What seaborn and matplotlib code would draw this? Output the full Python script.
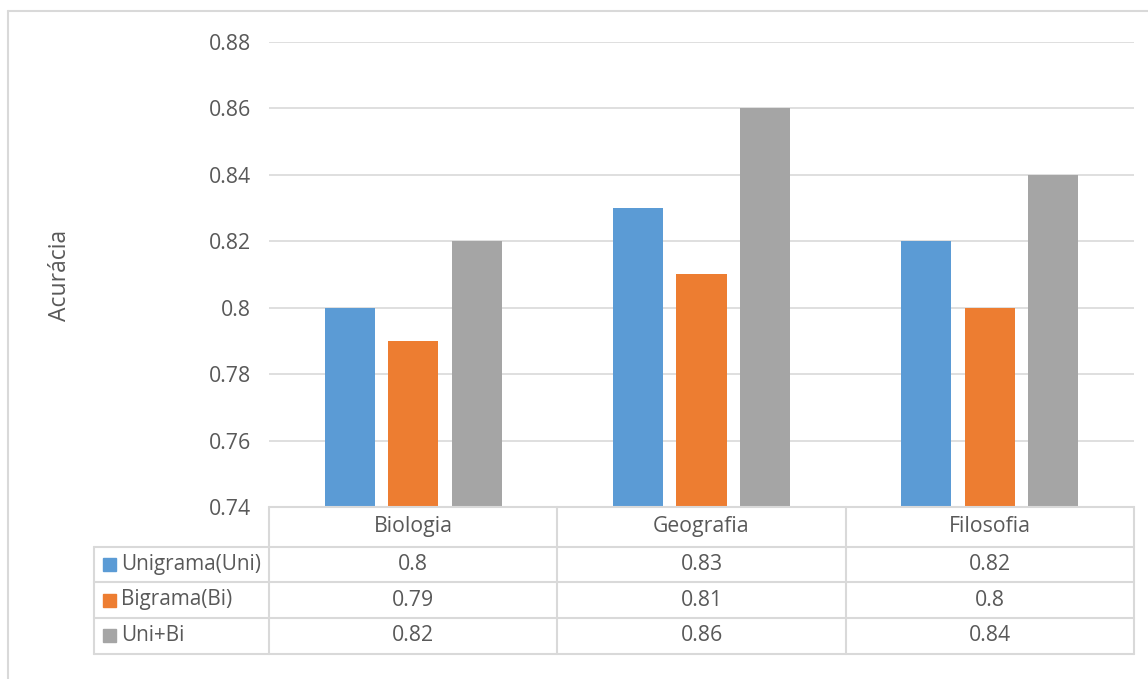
import numpy as np
import pandas as pd
import matplotlib
matplotlib.use("Agg")
import matplotlib.pyplot as plt
from matplotlib.lines import Line2D
from matplotlib.patches import Rectangle
import seaborn as sns

# Accuracy per subject for each feature set
subjects = ["Biologia", "Geografia", "Filosofia"]
series = ["Unigrama(Uni)", "Bigrama(Bi)", "Uni+Bi"]
unigrama = [0.80, 0.83, 0.82]
bigrama = [0.79, 0.81, 0.80]
uni_bi = [0.82, 0.86, 0.84]
value_labels = [["0.8", "0.83", "0.82"],
                ["0.79", "0.81", "0.8"],
                ["0.82", "0.86", "0.84"]]
yticks = [0.74, 0.76, 0.78, 0.80, 0.82, 0.84, 0.86, 0.88]
ytick_labels = ["0.74", "0.76", "0.78", "0.8", "0.82", "0.84", "0.86", "0.88"]
colors = ["#5B9BD5", "#ED7D31", "#A5A5A5"]

sns.set_theme(style="white")
plt.rcParams["font.family"] = ["Open Sans", "DejaVu Sans"]

TEXT = "#595959"
LINE = "#D9D9D9"
FS = 15.3

df = pd.DataFrame({
    "Disciplina": subjects * 3,
    "Modelo": [s for s in series for _ in subjects],
    "Acuracia": unigrama + bigrama + uni_bi,
})

W, H = 1148, 679
fig = plt.figure(figsize=(W / 100, H / 100), dpi=100)
fig.patch.set_facecolor("white")

# plot area in pixel units
px_left, px_right, px_top, px_bottom = 269, 1134, 42, 507
ax = fig.add_axes([px_left / W, 1 - px_bottom / H,
                   (px_right - px_left) / W, (px_bottom - px_top) / H])

sns.barplot(data=df, x="Disciplina", y="Acuracia", hue="Modelo",
            order=subjects, hue_order=series, palette=colors,
            width=0.661, gap=0.21, saturation=1, legend=False,
            linewidth=0, edgecolor="none", ax=ax)

# bars start from the axis floor
for patch in ax.patches:
    top = patch.get_y() + patch.get_height()
    patch.set_y(yticks[0])
    patch.set_height(top - yticks[0])

ax.set_xlim(-0.5, len(subjects) - 0.5)
ax.set_ylim(yticks[0], yticks[-1])
ax.set_yticks(yticks)
ax.set_yticklabels(ytick_labels, color=TEXT, fontsize=FS)
ax.tick_params(axis="y", length=0, pad=13)
ax.set_xticks([])
ax.set_xlabel("")
ax.set_ylabel("")
ax.grid(axis="y", color=LINE, linewidth=1.2)
ax.set_axisbelow(True)
for sp in ax.spines.values():
    sp.set_visible(False)

fig.text(60 / W, 1 - 275 / H, "Acurácia", rotation=90, ha="center",
         va="center", color=TEXT, fontsize=16.5)


def fx(px):
    return px / W


def fy(py):
    return 1 - py / H


def hline(x0, x1, y):
    fig.add_artist(Line2D([fx(x0), fx(x1)], [fy(y), fy(y)], color=LINE, lw=1.5))


def vline(x, y0, y1):
    fig.add_artist(Line2D([fx(x), fx(x)], [fy(y0), fy(y1)], color=LINE, lw=1.5))


# data table below the plot
col_w = (px_right - px_left) / len(subjects)
col_edges = [px_left + i * col_w for i in range(len(subjects) + 1)]
row_edges = [507, 546.5, 582, 618, 653.5]
table_left = 94

hline(px_left, px_right, row_edges[0])
for y in row_edges[1:]:
    hline(table_left, px_right, y)
for x in col_edges:
    vline(x, row_edges[0], row_edges[-1])
vline(table_left, row_edges[1], row_edges[-1])

for j, s in enumerate(subjects):
    cx = (col_edges[j] + col_edges[j + 1]) / 2
    fig.text(fx(cx), fy((row_edges[0] + row_edges[1]) / 2), s,
             ha="center", va="center", color=TEXT, fontsize=FS)

for i, s in enumerate(series):
    cy = (row_edges[i + 1] + row_edges[i + 2]) / 2
    fig.add_artist(Rectangle((fx(103), fy(cy + 6.5)), 13 / W, 13 / H,
                             color=colors[i], transform=fig.transFigure))
    fig.text(fx(121), fy(cy), s, ha="left", va="center", color=TEXT,
             fontsize=14.9)
    for j in range(len(subjects)):
        cx = (col_edges[j] + col_edges[j + 1]) / 2
        fig.text(fx(cx), fy(cy), value_labels[i][j], ha="center",
                 va="center", color=TEXT, fontsize=FS)

# outer chart frame (top and left edges)
fig.add_artist(Line2D([fx(8), fx(W)], [fy(11), fy(11)], color=LINE, lw=1.5))
fig.add_artist(Line2D([fx(8), fx(8)], [fy(11), fy(H)], color=LINE, lw=1.5))

fig.savefig("out.png", dpi=100)
